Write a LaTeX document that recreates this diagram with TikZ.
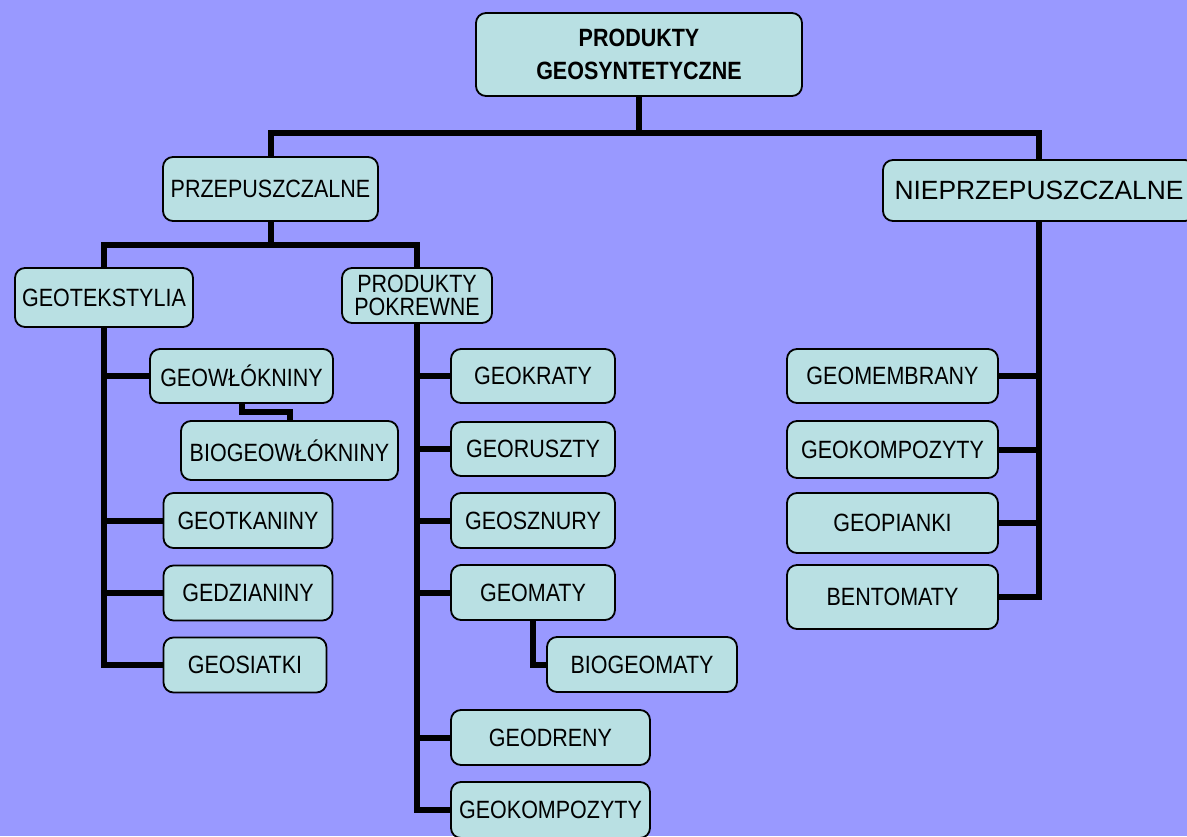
\documentclass[tikz,border=0pt]{standalone}
\usepackage{fontspec}
\setmainfont[FakeStretch=0.86]{Liberation Sans}
\newfontfamily\szeroki{Liberation Sans}
\usepackage{tikz}
\usetikzlibrary{positioning,calc}
\definecolor{tlo}{RGB}{153,153,255}
\definecolor{wypelnienie}{RGB}{185,224,227}
\tikzstyle{pudelko} = [draw=black, fill=wypelnienie, line width=1.8pt, rounded corners=10pt, inner sep=0pt, align=center, font=\fontsize{25}{23}\selectfont]
\tikzstyle{linia} = [draw=black, line width=6pt]
\tikzstyle{galaz} = [pudelko, minimum height=55]

\begin{document}
\begin{tikzpicture}[x=1pt, y=-1pt]
	\useasboundingbox (0,0) rectangle (1187,836);
	\clip (0,0) rectangle (1187,836);
	\fill[tlo] (0,0) rectangle (1187,836);
	% glowne
	\node[pudelko, minimum width=326, minimum height=83, font=\bfseries\fontsize{25}{33}\selectfont] (produkty) at (639,54.5) {PRODUKTY\\GEOSYNTETYCZNE};
	\node[pudelko, minimum width=215, minimum height=64] (przep) at (270.5,189) {PRZEPUSZCZALNE};
	\node[pudelko, minimum width=312, minimum height=61, font=\szeroki\fontsize{26.4}{28}\selectfont] (nieprzep) at (1039,190.5) {NIEPRZEPUSZCZALNE};
	\node[pudelko, minimum width=178, minimum height=59] (geotekstylia) at (104,297.5) {GEOTEKSTYLIA};
	\node[pudelko, minimum width=150, minimum height=55] (pokrewne) at (417,295.5) {PRODUKTY\\POKREWNE};
	% geotekstylia
	\node[galaz, minimum width=183, minimum height=54] (geowlokniny) at (241.5,376) {GEOWŁÓKNINY};
	\node[galaz, minimum width=217, minimum height=59] (biogeowlokniny) at (289.5,450.5) {BIOGEOWŁÓKNINY};
	\node[galaz, minimum width=169] (geotkaniny) at (248,520.5) {GEOTKANINY};
	\node[galaz, minimum width=169] (gedzianiny) at (248,593) {GEDZIANINY};
	\node[galaz, minimum width=163] (geosiatki) at (245,665) {GEOSIATKI};
	% produkty pokrewne
	\node[galaz, minimum width=164, minimum height=54] (geokraty) at (533,376) {GEOKRATY};
	\node[galaz, minimum width=164, minimum height=54] (georuszty) at (533,449) {GEORUSZTY};
	\node[galaz, minimum width=164] (geosznury) at (533,520.5) {GEOSZNURY};
	\node[galaz, minimum width=164] (geomaty) at (533,592.5) {GEOMATY};
	\node[galaz, minimum width=190] (biogeomaty) at (642,664.5) {BIOGEOMATY};
	\node[galaz, minimum width=199] (geodreny) at (550.5,737.5) {GEODRENY};
	\node[galaz, minimum width=199, minimum height=56] (geokompozyty) at (550.5,810) {GEOKOMPOZYTY};
	% nieprzepuszczalne
	\node[galaz, minimum width=211, minimum height=54] (geomembrany) at (892.5,376) {GEOMEMBRANY};
	\node[galaz, minimum width=211, minimum height=57] (geokompozytyn) at (892.5,449.5) {GEOKOMPOZYTY};
	\node[galaz, minimum width=211, minimum height=60] (geopianki) at (892.5,523) {GEOPIANKI};
	\node[galaz, minimum width=211, minimum height=64] (bentomaty) at (892.5,597) {BENTOMATY};
	% polaczenia
	\coordinate (w1) at (639,133);
	\coordinate (w2) at (270.5,245);
	\draw[linia] (produkty.south) -- (w1);
	\draw[linia] (przep.north) |- (w1) -| (nieprzep.north);
	\draw[linia] (przep.south) -- (w2);
	\draw[linia] (geotekstylia.north) |- (w2) -| (pokrewne.north);
	\draw[linia] (geotekstylia.south) |- (geosiatki.west);
	\foreach \n in {geowlokniny,geotkaniny,gedzianiny}
		\draw[linia] (\n.west) -- (\n.west -| geotekstylia.south);
	\draw[linia] (geowlokniny.south) -- ++(0,8) -| (biogeowlokniny.north);
	\draw[linia] (pokrewne.south) |- (geokompozyty.west);
	\foreach \n in {geokraty,georuszty,geosznury,geomaty,geodreny}
		\draw[linia] (\n.west) -- (\n.west -| pokrewne.south);
	\draw[linia] (geomaty.south) |- (biogeomaty.west);
	\draw[linia] (nieprzep.south) |- (bentomaty.east);
	\foreach \n in {geomembrany,geokompozytyn,geopianki}
		\draw[linia] (\n.east) -- (\n.east -| nieprzep.south);
\end{tikzpicture}
\end{document}
